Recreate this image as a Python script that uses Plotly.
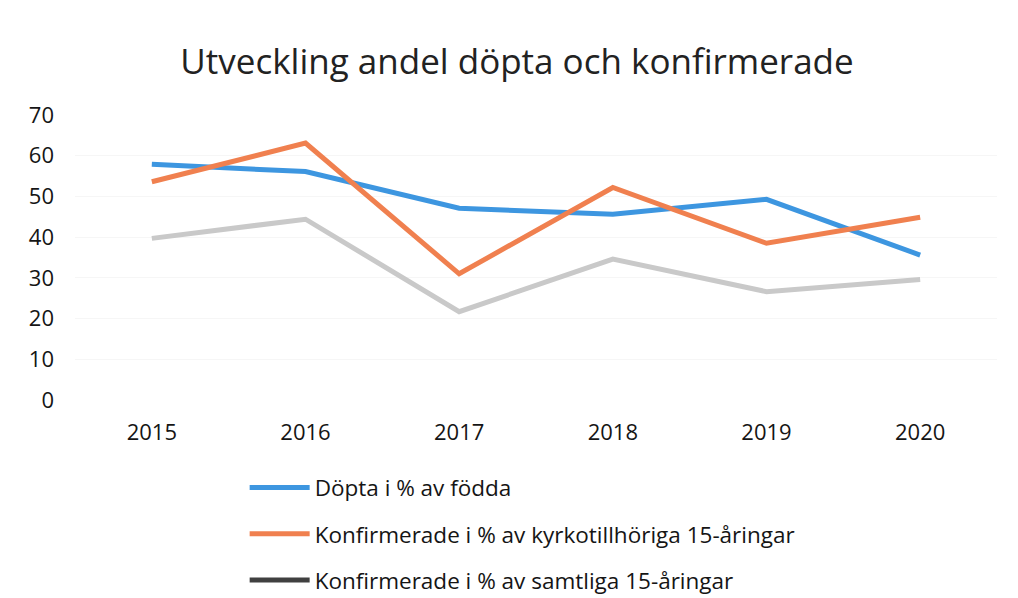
import plotly.graph_objects as go

years = ["2015", "2016", "2017", "2018", "2019", "2020"]
dopta = [57.9, 56.1, 47.1, 45.6, 49.3, 35.6]
konf_kyrko = [53.6, 63.1, 31.0, 52.2, 38.5, 44.9]
konf_samtliga = [39.7, 44.4, 21.7, 34.6, 26.6, 29.6]

names = ["Döpta i % av födda",
         "Konfirmerade i % av kyrkotillhöriga 15-åringar",
         "Konfirmerade i % av samtliga 15-åringar"]

FONT = "Open Sans"

fig = go.Figure()
fig.add_trace(go.Scatter(x=years, y=dopta, mode="lines", name=names[0],
                         line=dict(color="#3d96e0", width=5)))
fig.add_trace(go.Scatter(x=years, y=konf_kyrko, mode="lines", name=names[1],
                         line=dict(color="#f0804f", width=5)))
fig.add_trace(go.Scatter(x=years, y=konf_samtliga, mode="lines", name=names[2],
                         line=dict(color="#c9c9c9", width=5), showlegend=False,
                         legendgroup="g3"))
fig.add_trace(go.Scatter(x=[None], y=[None], mode="lines", name=names[2],
                         line=dict(color="#404040", width=5), legendgroup="g3"))

fig.update_layout(
    width=1018, height=598,
    margin=dict(l=67, r=29, t=107, b=206),
    paper_bgcolor="white", plot_bgcolor="white",
    font=dict(family=FONT, color="#1a1a1a"),
    title=dict(text="Utveckling andel döpta och konfirmerade",
               font=dict(family=FONT, size=35, color="#222222"),
               x=0.5, xanchor="center", y=0.91, yanchor="middle"),
    xaxis=dict(type="category", range=[-0.5, 5.5], showgrid=False, zeroline=False,
               showline=False, ticks="", tickfont=dict(size=22, color="#151515"),
               ticklabelstandoff=17),
    yaxis=dict(range=[0, 70], dtick=10, showgrid=True, gridcolor="#f6f6f6",
               zeroline=False, showline=False, ticks="",
               tickfont=dict(size=22, color="#151515"), ticklabelstandoff=20),
    legend=dict(orientation="v", x=0.184, xanchor="left",
                yref="container", y=0.2335, yanchor="top",
                font=dict(size=22.5, color="#151515"), itemwidth=60,
                tracegroupgap=14, bgcolor="rgba(0,0,0,0)"),
)

fig.write_html("out.html")
